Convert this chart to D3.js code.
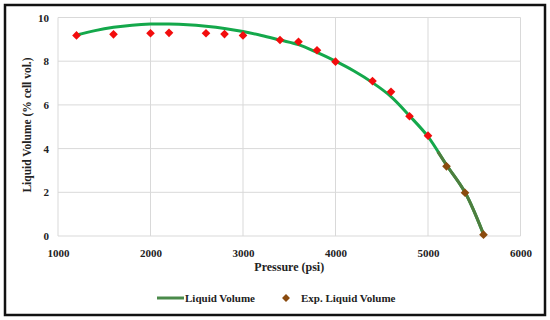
<!DOCTYPE html>
<html>
<head>
<meta charset="utf-8">
<script src="https://cdn.jsdelivr.net/npm/d3@7/dist/d3.min.js"></script>
<style>
  body { margin: 0; background: #fff; }
  svg text { font-family: "Liberation Serif", "Times New Roman", serif; font-weight: bold; fill: #222; }
</style>
</head>
<body>
<div id="chart"></div>
<script>
// model curve (green line)
const curvePressure = [1200, 1400, 1600, 1800, 2000, 2200, 2400, 2600, 2800, 3000, 3200, 3400,
    3600, 3800, 4000, 4200, 4400, 4600, 4800, 5000, 5200, 5400, 5600];
const curveVolume = [9.2, 9.4, 9.55, 9.65, 9.7, 9.7, 9.67, 9.6, 9.5, 9.36, 9.18, 8.97,
    8.76, 8.4, 8.0, 7.55, 7.02, 6.38, 5.5, 4.55, 3.25, 2.0, 0.08];

// measured points (red)
const expPressure = [1200, 1600, 2000, 2200, 2600, 2800, 3000, 3400, 3600, 3800, 4000, 4400, 4600, 4800, 5000];
const expVolume = [9.18, 9.23, 9.28, 9.3, 9.28, 9.24, 9.18, 8.97, 8.89, 8.5, 7.98, 7.09, 6.6, 5.48, 4.59];

// measured points near dew point (brown, in legend)
const exp2Pressure = [5200, 5400, 5600];
const exp2Volume = [3.19, 1.98, 0.06];

const xTicks = [1000, 2000, 3000, 4000, 5000, 6000];
const yTicks = [0, 2, 4, 6, 8, 10];

function renderChart(container) {
    const width = 550, height = 320;
    const margin = { left: 58, right: 30, top: 17.5, bottom: 84 };

    const svg = d3.select(container).append("svg")
        .attr("width", width)
        .attr("height", height);

    svg.append("rect")
        .attr("x", 5).attr("y", 5)
        .attr("width", 540).attr("height", 310)
        .attr("fill", "#fff")
        .attr("stroke", "#111")
        .attr("stroke-width", 2.5);

    const x = d3.scaleLinear().domain([1000, 6000]).range([margin.left, width - margin.right + 0.5]);
    const y = d3.scaleLinear().domain([0, 10]).range([height - margin.bottom, margin.top]);

    // gridlines
    const grid = svg.append("g").attr("class", "grid");
    grid.selectAll("line.v").data(xTicks).enter().append("line")
        .attr("class", "v")
        .attr("x1", d => x(d)).attr("x2", d => x(d))
        .attr("y1", y(0)).attr("y2", y(10))
        .attr("stroke", "#d9d9d9").attr("stroke-width", 1);
    grid.selectAll("line.h").data(yTicks).enter().append("line")
        .attr("class", "h")
        .attr("x1", x(1000)).attr("x2", x(6000))
        .attr("y1", d => y(d)).attr("y2", d => y(d))
        .attr("stroke", "#d9d9d9").attr("stroke-width", 1);

    // axes (labels only)
    const xAxis = svg.append("g")
        .attr("transform", `translate(0,${y(0)})`)
        .call(d3.axisBottom(x).tickValues(xTicks).tickSize(0).tickPadding(13).tickFormat(d3.format("d")));
    const yAxis = svg.append("g")
        .attr("transform", `translate(${x(1000)},0)`)
        .call(d3.axisLeft(y).tickValues(yTicks).tickSize(0).tickPadding(9).tickFormat(d3.format("d")));
    [xAxis, yAxis].forEach(a => {
        a.select(".domain").remove();
        a.selectAll("text").attr("font-size", "11px")
            .style("font-family", "'Liberation Serif', serif").style("font-weight", "bold").attr("fill", "#222");
    });

    svg.append("text")
        .attr("x", (x(1000) + x(6000)) / 2)
        .attr("y", 271)
        .attr("text-anchor", "middle")
        .attr("font-size", "12px")
        .text("Pressure (psi)");

    svg.append("text")
        .attr("transform", `translate(31,125)rotate(-90)`)
        .attr("text-anchor", "middle")
        .attr("font-size", "11.5px")
        .text("Liquid Volume (% cell vol.)");

    // curve
    const curveData = curvePressure.map((p, i) => ({ p, v: curveVolume[i] }));
    const line = d3.line()
        .x(d => x(d.p))
        .y(d => y(d.v))
        .curve(d3.curveCatmullRom.alpha(0.5));

    svg.append("path")
        .datum(curveData)
        .attr("d", line)
        .attr("fill", "none")
        .attr("stroke", "#14a84b")
        .attr("stroke-width", 3)
        .style("stroke-linecap", "round");

    // darker overlay near the dew point
    svg.append("path")
        .datum(curveData.filter(d => d.p >= 5000))
        .attr("d", line)
        .attr("fill", "none")
        .attr("stroke", "#4f7d3e")
        .attr("stroke-width", 3)
        .attr("stroke-dasharray", function () {
            const len = this.getTotalLength();
            return `0 ${len * 0.16} ${len}`;
        });

    const diamond = d3.symbol().type(d3.symbolDiamond2).size(48);

    svg.append("g").selectAll("path")
        .data(expPressure.map((p, i) => ({ p, v: expVolume[i] })))
        .enter().append("path")
        .attr("d", diamond)
        .attr("transform", d => `translate(${x(d.p)},${y(d.v)})`)
        .attr("fill", "#f20d0d");

    svg.append("g").selectAll("path")
        .data(exp2Pressure.map((p, i) => ({ p, v: exp2Volume[i] })))
        .enter().append("path")
        .attr("d", diamond)
        .attr("transform", d => `translate(${x(d.p)},${y(d.v)})`)
        .attr("fill", "#8a4b0e");

    // legend
    const legend = svg.append("g").attr("transform", "translate(0,298)");
    legend.append("line")
        .attr("x1", 157).attr("x2", 184)
        .attr("stroke", "#4a8a4a").attr("stroke-width", 3);
    legend.append("text")
        .attr("x", 185).attr("dy", "0.35em")
        .attr("font-size", "11px")
        .text("Liquid Volume");
    legend.append("path")
        .attr("d", d3.symbol().type(d3.symbolDiamond2).size(40))
        .attr("transform", "translate(286,0)")
        .attr("fill", "#8a4b0e");
    legend.append("text")
        .attr("x", 301).attr("dy", "0.35em")
        .attr("font-size", "11px")
        .text("Exp. Liquid Volume");
}

renderChart("#chart");
</script>
</body>
</html>
